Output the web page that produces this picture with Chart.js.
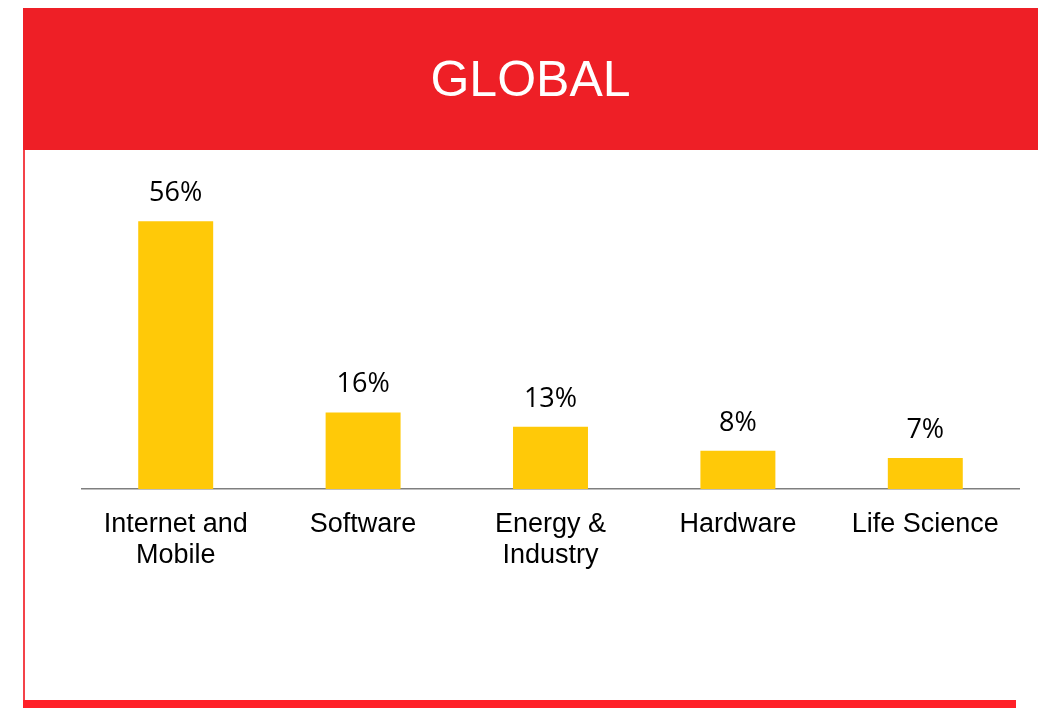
<!DOCTYPE html>
<html>
<head>
<meta charset="utf-8">
<script src="https://cdn.jsdelivr.net/npm/chart.js@4"></script>
<style>
  html, body { margin: 0; padding: 0; background: #fff; }
  body { width: 1041px; height: 708px; position: relative; overflow: hidden; }
  #header {
    position: absolute; left: 23px; top: 8px; width: 1015px; height: 142px;
    background: #EE1F26; color: #fff;
    font-family: "Liberation Sans", Arial, sans-serif; font-size: 50px;
    display: flex; align-items: center; justify-content: center;
  }
  #leftLine { position: absolute; left: 23px; top: 120px; width: 2px; height: 588px; background: #F4434A; }
  #bottomBar { position: absolute; left: 23px; top: 700px; width: 993px; height: 8px; background: #FF2128; }
  #wrap { position: absolute; left: 0; top: 150px; width: 1041px; height: 550px; }
</style>
</head>
<body>
<div id="leftLine"></div>
<div id="header">GLOBAL</div>
<div id="bottomBar"></div>
<div id="wrap"><canvas id="myChart"></canvas></div>
<script>
// Dados do gráfico
const categorias = [['Internet and', 'Mobile'], 'Software', ['Energy &', 'Industry'], 'Hardware', 'Life Science'];
const valores = [56, 16, 13, 8, 6.5];
const rotulos = ['56%', '16%', '13%', '8%', '7%'];

// Plugin para escrever os rótulos acima das barras
const rotulosPlugin = {
    id: 'rotulos',
    afterDatasetsDraw(chart) {
        const ctx = chart.ctx;
        const meta = chart.getDatasetMeta(0);
        ctx.save();
        ctx.font = '27px "Open Sans", sans-serif';
        ctx.fillStyle = '#000';
        ctx.textAlign = 'center';
        ctx.textBaseline = 'alphabetic';
        meta.data.forEach((bar, i) => {
            ctx.fillText(rotulos[i], bar.x, bar.y - 20);
        });
        ctx.restore();
    }
};

const ctx = document.getElementById('myChart').getContext('2d');
new Chart(ctx, {
    type: 'bar',
    data: {
        labels: categorias,
        datasets: [{
            data: valores,
            backgroundColor: '#FFC908',
            borderWidth: 0,
            barPercentage: 0.4,
            categoryPercentage: 1.0
        }]
    },
    options: {
        responsive: true,
        maintainAspectRatio: false,
        animation: false,
        layout: {
            padding: { top: 52, right: 22, bottom: 0, left: 82 }
        },
        plugins: {
            legend: { display: false },
            tooltip: { enabled: false }
        },
        scales: {
            x: {
                grid: { display: false, drawTicks: false },
                border: { display: true, color: '#7F7F7F', width: 1.5 },
                ticks: {
                    color: '#000',
                    padding: 20,
                    maxRotation: 0,
                    autoSkip: false,
                    font: { family: '"Liberation Sans", Arial, sans-serif', size: 27, lineHeight: 1.15 }
                },
                afterFit: (scale) => { scale.height = 211; }
            },
            y: {
                display: false,
                min: 0,
                max: 60
            }
        }
    },
    plugins: [rotulosPlugin]
});
</script>
</body>
</html>
